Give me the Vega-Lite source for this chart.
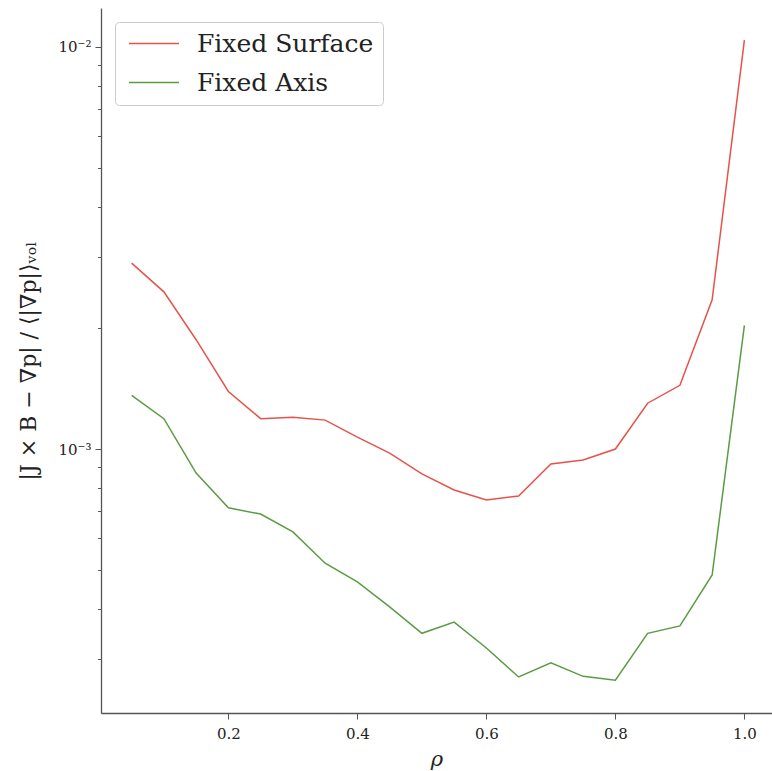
{
  "$schema": "https://vega.github.io/schema/vega-lite/v6.json",
  "autosize": {"type": "none"},
  "width": 671,
  "height": 705,
  "padding": {"left": 101, "top": 8, "right": 0, "bottom": 58},
  "background": "white",
  "config": {
    "view": {"stroke": null},
    "font": "DejaVu Serif",
    "axis": {"grid": false, "domainColor": "#555555", "domainWidth": 1.3, "tickColor": "#555555", "labelColor": "#222222", "titleColor": "#222222", "labelFont": "DejaVu Serif", "titleFont": "DejaVu Serif", "titleFontWeight": "normal"}
  },
  "data": {"values": [
    {"rho": 0.05, "err": 0.00290, "method": "Fixed Surface"},
    {"rho": 0.10, "err": 0.00246, "method": "Fixed Surface"},
    {"rho": 0.15, "err": 0.00187, "method": "Fixed Surface"},
    {"rho": 0.20, "err": 0.00139, "method": "Fixed Surface"},
    {"rho": 0.25, "err": 0.00119, "method": "Fixed Surface"},
    {"rho": 0.30, "err": 0.00120, "method": "Fixed Surface"},
    {"rho": 0.35, "err": 0.00118, "method": "Fixed Surface"},
    {"rho": 0.40, "err": 0.00107, "method": "Fixed Surface"},
    {"rho": 0.45, "err": 0.000977, "method": "Fixed Surface"},
    {"rho": 0.50, "err": 0.000867, "method": "Fixed Surface"},
    {"rho": 0.55, "err": 0.000791, "method": "Fixed Surface"},
    {"rho": 0.60, "err": 0.000747, "method": "Fixed Surface"},
    {"rho": 0.65, "err": 0.000764, "method": "Fixed Surface"},
    {"rho": 0.70, "err": 0.000918, "method": "Fixed Surface"},
    {"rho": 0.75, "err": 0.000939, "method": "Fixed Surface"},
    {"rho": 0.80, "err": 0.00100, "method": "Fixed Surface"},
    {"rho": 0.85, "err": 0.00130, "method": "Fixed Surface"},
    {"rho": 0.90, "err": 0.00144, "method": "Fixed Surface"},
    {"rho": 0.95, "err": 0.00235, "method": "Fixed Surface"},
    {"rho": 1.00, "err": 0.0104, "method": "Fixed Surface"},
    {"rho": 0.05, "err": 0.00136, "method": "Fixed Axis"},
    {"rho": 0.10, "err": 0.00119, "method": "Fixed Axis"},
    {"rho": 0.15, "err": 0.000871, "method": "Fixed Axis"},
    {"rho": 0.20, "err": 0.000714, "method": "Fixed Axis"},
    {"rho": 0.25, "err": 0.000689, "method": "Fixed Axis"},
    {"rho": 0.30, "err": 0.000622, "method": "Fixed Axis"},
    {"rho": 0.35, "err": 0.000520, "method": "Fixed Axis"},
    {"rho": 0.40, "err": 0.000467, "method": "Fixed Axis"},
    {"rho": 0.45, "err": 0.000405, "method": "Fixed Axis"},
    {"rho": 0.50, "err": 0.000348, "method": "Fixed Axis"},
    {"rho": 0.55, "err": 0.000371, "method": "Fixed Axis"},
    {"rho": 0.60, "err": 0.000320, "method": "Fixed Axis"},
    {"rho": 0.65, "err": 0.000271, "method": "Fixed Axis"},
    {"rho": 0.70, "err": 0.000294, "method": "Fixed Axis"},
    {"rho": 0.75, "err": 0.000272, "method": "Fixed Axis"},
    {"rho": 0.80, "err": 0.000266, "method": "Fixed Axis"},
    {"rho": 0.85, "err": 0.000348, "method": "Fixed Axis"},
    {"rho": 0.90, "err": 0.000363, "method": "Fixed Axis"},
    {"rho": 0.95, "err": 0.000486, "method": "Fixed Axis"},
    {"rho": 1.00, "err": 0.00203, "method": "Fixed Axis"}
  ]},
  "mark": {"type": "line", "strokeWidth": 1.5, "clip": true},
  "encoding": {
    "x": {
      "field": "rho", "type": "quantitative",
      "scale": {"domain": [0.0025, 1.0428], "nice": false, "zero": false},
      "axis": {"values": [0.2, 0.4, 0.6, 0.8, 1.0], "format": ".1f", "labelFontSize": 15, "tickSize": 6, "labelPadding": 7, "title": "ρ", "titleFontSize": 21, "titleFontStyle": "italic", "titlePadding": 7}
    },
    "y": {
      "field": "err", "type": "quantitative",
      "scale": {"type": "log", "domain": [0.0002205, 0.0125], "nice": false},
      "axis": {
        "values": [0.0003, 0.0004, 0.0005, 0.0006, 0.0007, 0.0008, 0.0009, 0.001, 0.002, 0.003, 0.004, 0.005, 0.006, 0.007, 0.008, 0.009, 0.01],
        "labelExpr": "datum.value == 0.001 ? '10⁻³' : (datum.value == 0.01 ? '10⁻²' : '')",
        "labelFontSize": 15,
        "labelPadding": 4,
        "tickSize": {"condition": {"test": "datum.value == 0.001 || datum.value == 0.01", "value": 6}, "value": 3.5},
        "title": "|J × B − ∇p| / ⟨|∇p|⟩ᵥₒₗ",
        "titleFontSize": 22,
        "titlePadding": 17
      }
    },
    "color": {
      "field": "method", "type": "nominal",
      "scale": {"domain": ["Fixed Surface", "Fixed Axis"], "range": ["#e5534b", "#5b9b44"]},
      "legend": {
        "title": null, "orient": "top-left", "offset": 14,
        "symbolType": "M-1.5,0H8.5", "symbolSize": 100, "symbolStrokeWidth": 1.5,
        "labelFontSize": 25, "labelFont": "DejaVu Serif", "labelColor": "#222222", "labelLimit": 400,
        "labelOffset": 48, "rowPadding": 13, "padding": 9,
        "strokeColor": "#cccccc", "fillColor": "white", "cornerRadius": 4
      }
    }
  }
}
